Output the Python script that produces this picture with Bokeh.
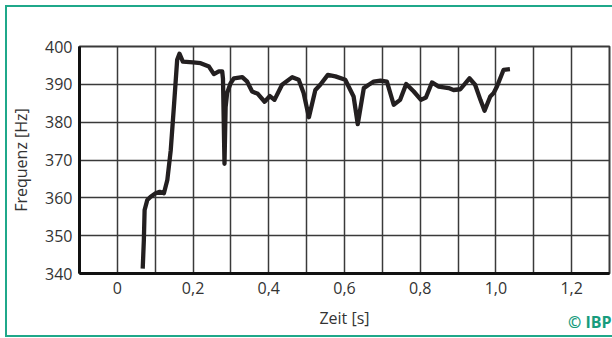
from bokeh.plotting import figure
from bokeh.models import (FixedTicker, CustomJSTickFormatter, Label, Range1d)
from bokeh.embed import file_html
from bokeh.resources import INLINE

# ---- data ----
zeit_s = [0.067, 0.070, 0.072, 0.079, 0.088, 0.101, 0.112, 0.123, 0.132, 0.141,
          0.150, 0.158, 0.164, 0.173, 0.200, 0.220, 0.242, 0.255, 0.268, 0.277,
          0.279, 0.283, 0.286, 0.290, 0.299, 0.308, 0.330, 0.343, 0.356, 0.371,
          0.389, 0.403, 0.415, 0.435, 0.462, 0.479, 0.492, 0.506, 0.523, 0.536,
          0.556, 0.576, 0.602, 0.624, 0.635, 0.651, 0.664, 0.677, 0.695, 0.712,
          0.730, 0.747, 0.763, 0.783, 0.802, 0.815, 0.831, 0.849, 0.875, 0.888,
          0.906, 0.930, 0.945, 0.959, 0.970, 0.985, 0.994, 1.003, 1.020, 1.037]
frequenz_hz = [341.3, 348.8, 356.8, 359.4, 360.3, 361.2, 361.6, 361.2, 364.7, 372.6,
               385.0, 396.5, 398.1, 396.0, 395.8, 395.6, 394.7, 392.7, 393.4, 393.4,
               391.5, 369.0, 384.0, 387.7, 390.3, 391.6, 391.9, 390.7, 388.1, 387.5,
               385.4, 386.9, 385.9, 389.9, 391.9, 391.2, 387.7, 381.3, 388.5, 389.9,
               392.5, 392.1, 391.2, 386.8, 379.5, 389.0, 389.9, 390.7, 391.0, 390.7,
               384.6, 385.9, 390.1, 388.1, 385.9, 386.5, 390.5, 389.4, 389.0, 388.5,
               388.7, 391.6, 389.9, 385.9, 383.0, 386.8, 387.7, 389.5, 393.8, 394.0]

x_ticks = [0, 0.2, 0.4, 0.6, 0.8, 1.0, 1.2]
x_tick_labels = ["0", "0,2", "0,4", "0,6", "0,8", "1,0", "1,2"]
x_grid = [0, 0.1, 0.2, 0.3, 0.4, 0.5, 0.6, 0.7, 0.8, 0.9, 1.0, 1.1, 1.2]
y_ticks = [340, 350, 360, 370, 380, 390, 400]

FONT = "Open Sans"
TXT = "#333333"
TEAL = "#1fa88a"

# canvas starts at (7,7) because of the CSS margin + teal border
p = figure(width=607, height=332, output_backend="svg", toolbar_location=None,
           x_range=Range1d(-0.1, 1.3), y_range=Range1d(340, 400),
           min_border_left=72, min_border_right=5, min_border_top=39, min_border_bottom=66,
           background_fill_color="white", border_fill_color="white")
p.styles = {"margin-left": "5px", "margin-top": "5px",
            "border-left": f"2px solid {TEAL}", "border-top": f"2px solid {TEAL}",
            "border-bottom": f"2px solid {TEAL}"}

p.line(zeit_s, frequenz_hz, line_color="#231f20", line_width=4.3, line_join="round")

# axes
p.xaxis.ticker = FixedTicker(ticks=x_ticks)
p.xaxis.formatter = CustomJSTickFormatter(args=dict(tvals=x_ticks, tlabels=x_tick_labels), code="""
    let best = 0;
    for (let i = 0; i < tvals.length; i++) {
        if (Math.abs(tvals[i] - tick) < Math.abs(tvals[best] - tick)) best = i;
    }
    return tlabels[best];
""")
p.yaxis.ticker = FixedTicker(ticks=y_ticks)
p.xaxis.axis_label = "Zeit [s]"
p.yaxis.axis_label = "Frequenz [Hz]"
for ax in (p.xaxis[0], p.yaxis[0]):
    ax.axis_line_color = "#111111"
    ax.axis_line_width = 3
    ax.major_tick_line_color = None
    ax.minor_tick_line_color = None
    ax.major_tick_out = 0
    ax.major_tick_in = 0
    ax.major_label_text_font = FONT
    ax.major_label_text_font_size = "16px"
    ax.major_label_text_color = TXT
    ax.axis_label_text_font = FONT
    ax.axis_label_text_font_size = "16px"
    ax.axis_label_text_font_style = "normal"
    ax.axis_label_text_color = TXT
p.xaxis.major_label_standoff = 8
p.yaxis.major_label_standoff = 7
p.xaxis.axis_label_standoff = 10
p.yaxis.axis_label_standoff = 10

# grid
p.xgrid.ticker = FixedTicker(ticks=x_grid)
p.ygrid.ticker = FixedTicker(ticks=y_ticks)
for g in (p.xgrid[0], p.ygrid[0]):
    g.grid_line_color = "#3a3a3a"
    g.grid_line_width = 1.5

p.outline_line_color = "#3a3a3a"
p.outline_line_width = 2

# logo placed in canvas coordinates; hosted in the (roomy) top panel so it is not clipped
logo = Label(x=602, y=312, x_units="canvas", y_units="canvas", text="© IBP",
             text_font=FONT, text_font_style="bold", text_font_size="16px",
             text_color="#179c7d", text_align="right", text_baseline="alphabetic")
p.add_layout(logo, "above")

open("out.html", "w").write(file_html(p, INLINE))
